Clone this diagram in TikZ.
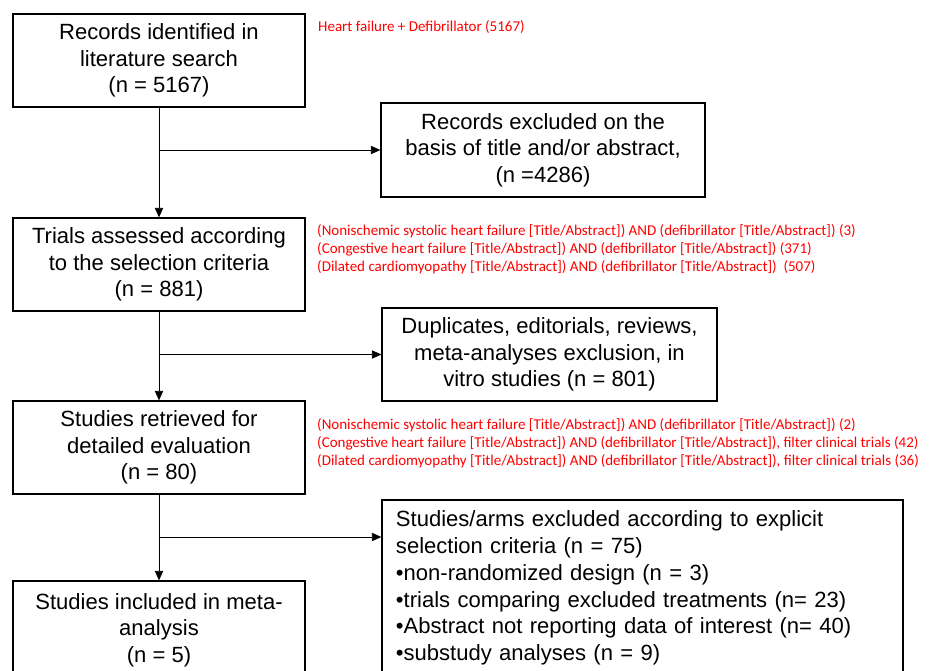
\documentclass[tikz,border=0pt]{standalone}
\usepackage{fontspec}
\setmainfont{Liberation Sans}
\newfontfamily\notefont{Carlito}
\usetikzlibrary{arrows.meta}

\begin{document}
\begin{tikzpicture}[x=0.03cm, y=-0.03cm,
  box/.style={draw, line width=1.1pt, align=center, inner sep=0pt,
    font=\fontsize{18.8}{22.6}\selectfont},
  note/.style={anchor=west, align=left, text=red, inner sep=0pt,
    font=\notefont\fontsize{12.8}{15.4}\selectfont},
  link/.style={line width=0.6pt, -{Triangle[length=8pt,width=7pt]}}]
  \useasboundingbox (0,0) rectangle (931,670);
  \clip (0,0) rectangle (931,670);

  % main column
  \node[box, minimum width=8.76cm, minimum height=2.79cm] (identified) at (159,60.5)
    {Records identified in\\literature search\\(n = 5167)};
  \node[box, minimum width=8.76cm, minimum height=2.79cm] (assessed) at (159,264.5)
    {Trials assessed according\\to the selection criteria\\(n = 881)};
  \node[box, minimum width=8.76cm, minimum height=2.79cm] (retrieved) at (159,447.5)
    {Studies retrieved for\\detailed evaluation\\(n = 80)};
  \node[box, minimum width=8.76cm, minimum height=2.94cm] (included) at (159,630)
    {Studies included in meta-\\analysis\\(n = 5)};

  % exclusions
  \node[box, minimum width=9.72cm, minimum height=2.82cm] (excluded) at (543,150)
    {Records excluded on the\\basis of title and/or abstract,\\(n =4286)};
  \node[box, minimum width=10.05cm, minimum height=2.79cm] (duplicates) at (549.5,354.5)
    {Duplicates, editorials, reviews,\\meta-analyses exclusion, in\\vitro studies (n = 801)};
  \node[box, align=left, text width=14.79cm, inner xsep=0.42cm,
    minimum height=5.28cm, font=\fontsize{18.8}{22.9}\selectfont] (criteria) at (642.5,588)
    {Studies/arms excluded according to explicit\\
     selection criteria (n = 75)\\
     •non-randomized design (n = 3)\\
     •trials comparing excluded treatments (n= 23)\\
     •Abstract not reporting data of interest (n= 40)\\
     •substudy analyses (n = 9)};

  % search strings
  \node[note] (search1) at (318,27) {Heart failure + Defibrillator (5167)};
  \node[note] (search2) at (317,249)
    {(Nonischemic systolic heart failure [Title/Abstract]) AND (defibrillator [Title/Abstract]) (3)\\
     (Congestive heart failure [Title/Abstract]) AND (defibrillator [Title/Abstract]) (371)\\
     (Dilated cardiomyopathy [Title/Abstract]) AND (defibrillator [Title/Abstract])\ \ (507)};
  \node[note] (search3) at (317,443.5)
    {(Nonischemic systolic heart failure [Title/Abstract]) AND (defibrillator [Title/Abstract]) (2)\\
     (Congestive heart failure [Title/Abstract]) AND (defibrillator [Title/Abstract]), filter clinical trials (42)\\
     (Dilated cardiomyopathy [Title/Abstract]) AND (defibrillator [Title/Abstract]), filter clinical trials (36)};

  % arrows
  \coordinate (split3) at (159,537);
  \draw[link] (identified.south) -- (assessed.north);
  \draw[link] (identified.south |- excluded.west) -- (excluded.west);
  \draw[link] (assessed.south) -- (retrieved.north);
  \draw[link] (assessed.south |- duplicates.west) -- (duplicates.west);
  \draw[link] (retrieved.south) -- (included.north);
  \draw[link] (split3) -- (split3 -| criteria.west);
\end{tikzpicture}
\end{document}
